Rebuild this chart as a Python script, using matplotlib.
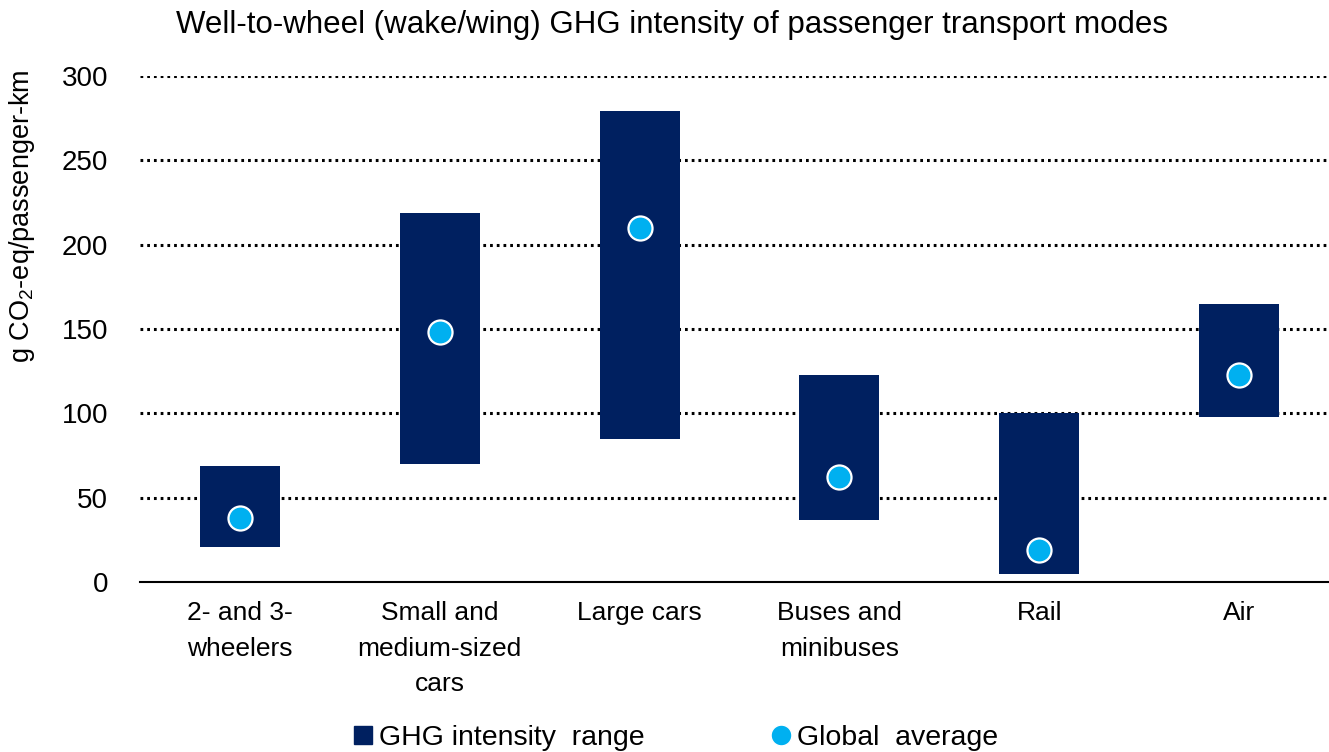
import matplotlib.pyplot as plt
from matplotlib.lines import Line2D
import numpy as np

plt.rcParams['font.family'] = ['Liberation Sans', 'DejaVu Sans']
plt.rcParams['mathtext.fontset'] = 'custom'
plt.rcParams['mathtext.rm'] = 'Liberation Sans'

categories = ["2- and 3-\nwheelers", "Small and\nmedium-sized\ncars", "Large cars",
              "Buses and\nminibuses", "Rail", "Air"]
range_low = [21, 70, 85, 37, 5, 98]
range_high = [69, 219, 279, 123, 100, 165]
global_avg = [38, 148, 210, 62, 19, 123]

navy = "#002060"
cyan = "#00B0F0"

fig = plt.figure(figsize=(13.29, 7.52), dpi=100)
ax = fig.add_axes([140 / 1329, 1 - 582 / 752, 1 - 140 / 1329, (582 - 76) / 752])

x = np.arange(len(categories))
heights = [h - l for h, l in zip(range_high, range_low)]
ax.bar(x, heights, bottom=range_low, width=0.4, color=navy, zorder=3)
ax.scatter(x, global_avg, s=300, color=cyan, edgecolors="white", linewidths=1.6, zorder=4)

for yv in range(50, 301, 50):
    ax.axhline(yv, color="black", lw=2.2, linestyle=(0, (0.9, 1.3)), zorder=1)

ax.set_ylim(0, 300)
ax.set_xlim(-0.5, 5.45)
ax.set_yticks(range(0, 301, 50))
ax.set_xticks(x)
ax.set_xticklabels(categories, fontsize=19, linespacing=1.6)
ax.tick_params(axis="y", length=0, labelsize=20, pad=23)
ax.tick_params(axis="x", length=0, pad=14)
for side in ["top", "right", "left"]:
    ax.spines[side].set_visible(False)
ax.spines["bottom"].set_linewidth(1.5)

ax.set_ylabel("g CO$_2$-eq/passenger-km", fontsize=19.5)
ax.yaxis.set_label_coords(-0.087, 0.723)

fig.text(0.506, 0.967, "Well-to-wheel (wake/wing) GHG intensity of passenger transport modes",
         ha="center", va="center", fontsize=22.5)

handles = [
    Line2D([], [], marker="s", color=navy, linestyle="none", markersize=13),
    Line2D([], [], marker="o", color=cyan, markeredgecolor="white", linestyle="none", markersize=15),
]
fig.legend(handles, ["GHG intensity  range", "Global  average"], loc="center",
           bbox_to_anchor=(0.508, 0.019), ncol=2, frameon=False, fontsize=20.5,
           handletextpad=0.15, columnspacing=4.4, handlelength=0.8)

plt.savefig("out.png", dpi=100)
